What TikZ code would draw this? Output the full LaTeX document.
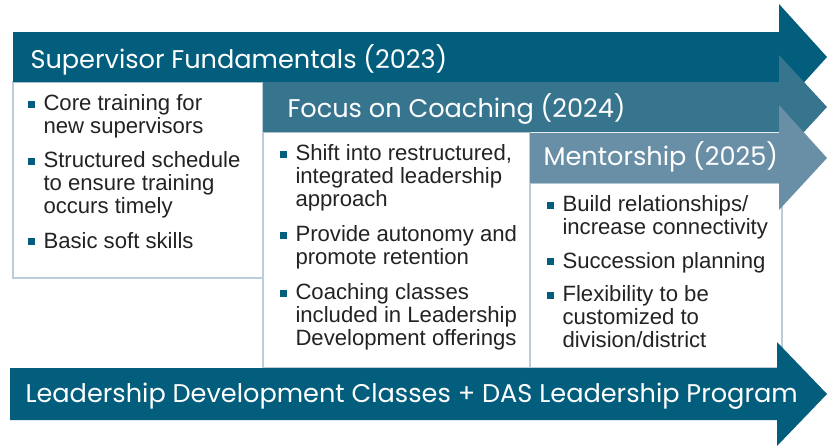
\documentclass[tikz,border=0pt]{standalone}
\usepackage{fontspec}
\setmainfont{Liberation Sans}
\newfontfamily\headfont{Poppins}

\definecolor{fundc}{RGB}{2,94,124}
\definecolor{coachc}{RGB}{55,117,143}
\definecolor{mentorc}{RGB}{105,143,167}
\definecolor{edgec}{RGB}{188,204,216}
\definecolor{inkc}{RGB}{35,35,35}

\newcommand{\sqbul}{\makebox[0pt][r]{\textcolor{fundc}{\rule[1.9pt]{5.25pt}{5.25pt}}\hspace{6.75pt}}}

\tikzset{every picture/.style={line width=0.75pt}}
\tikzset{
  bandtext/.style={anchor=base west, inner sep=0pt, text=white, font=\headfont\fontsize{19.2}{21}\selectfont},
  itemtext/.style={anchor=base west, inner sep=0pt, text=inkc, align=left, font=\fontsize{16.6}{16.9}\selectfont},
  listbox/.style={draw=edgec, fill=white, line width=1.5pt},
}

\begin{document}
\begin{tikzpicture}[x=0.75pt,y=0.75pt,yscale=-1,xscale=1]
\useasboundingbox (0,0) rectangle (827,446);

%Shape: Rectangle (list 2023)
\draw [listbox] (13,82) rectangle (263,278) ;
%Shape: Rectangle (list 2024)
\draw [listbox] (263,132) rectangle (530,368) ;
%Shape: Rectangle (list 2025)
\draw [listbox] (530,183) rectangle (782,368) ;

%Shape: Right Arrow (2023)
\fill [fundc] (13,32) -- (779,32) -- (779,4) -- (827,57) -- (779,110) -- (779,82) -- (13,82) -- cycle ;
%Shape: Right Arrow (2024)
\fill [coachc] (263,82) -- (779,82) -- (779,55) -- (827,107) -- (779,159) -- (779,132) -- (263,132) -- cycle ;
%Shape: Right Arrow (2025)
\fill [mentorc] (530,133) -- (779,133) -- (779,105) -- (827,158) -- (779,210) -- (779,183) -- (530,183) -- cycle ;
%Shape: Right Arrow (program)
\fill [fundc] (10,368) -- (777,368) -- (777,342) -- (827,394) -- (777,446) -- (777,420) -- (10,420) -- cycle ;

% Text Node
\node [bandtext] (fund) at (30,68) {Supervisor Fundamentals (2023)};
% Text Node
\node [bandtext] (coach) at (287,117) {Focus on Coaching (2024)};
% Text Node
\node [bandtext] (mentor) at (543,165) {Mentorship (2025)};
% Text Node
\node [bandtext] (program) at (25,402) {Leadership Development Classes + DAS Leadership Program};

% Text Node (anchored on the last line)
\node [itemtext] (fundA) at (43,133) {\sqbul Core training for\\new supervisors};
% Text Node
\node [itemtext] (fundB) at (43,213) {\sqbul Structured schedule\\to ensure training\\occurs timely};
% Text Node
\node [itemtext] (fundC) at (43,248) {\sqbul Basic soft skills};

% Text Node
\node [itemtext] (coachA) at (295,206) {\sqbul Shift into restructured,\\integrated leadership\\approach};
% Text Node
\node [itemtext] (coachB) at (295,264) {\sqbul Provide autonomy and\\promote retention};
% Text Node
\node [itemtext] (coachC) at (295,345) {\sqbul Coaching classes\\included in Leadership\\Development offerings};

% Text Node
\node [itemtext] (mentorA) at (562,234) {\sqbul Build relationships/\\increase connectivity};
% Text Node
\node [itemtext] (mentorB) at (562,268) {\sqbul Succession planning};
% Text Node
\node [itemtext] (mentorC) at (562,347) {\sqbul Flexibility to be\\customized to\\division/district};

\end{tikzpicture}
\end{document}
